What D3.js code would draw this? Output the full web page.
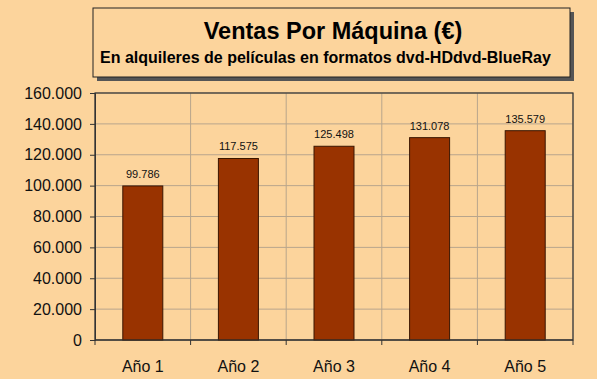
<!DOCTYPE html>
<html><head><meta charset="utf-8">
<script src="https://cdn.jsdelivr.net/npm/d3@7"></script>
<style>html,body{margin:0;padding:0;background:#FCD49C;}svg{display:block;}</style>
</head><body>
<svg id="c" width="597" height="379"></svg>
<script>
const categories = ["Año 1", "Año 2", "Año 3", "Año 4", "Año 5"];
const values = [99786, 117575, 125498, 131078, 135579];
const valueLabels = ["99.786", "117.575", "125.498", "131.078", "135.579"];
const yTicks = [0, 20000, 40000, 60000, 80000, 100000, 120000, 140000, 160000];
const yTickLabels = ["0", "20.000", "40.000", "60.000", "80.000", "100.000", "120.000", "140.000", "160.000"];
const title = "Ventas Por Máquina (€)";
const subtitle = "En alquileres de películas en formatos dvd-HDdvd-BlueRay";

const svg = d3.select("#c");
const font = "Liberation Sans, Arial, Helvetica, sans-serif";
svg.append("rect").attr("width",597).attr("height",379).attr("fill","#FCD49C");

// Title box with shadow
svg.append("rect").attr("x",97).attr("y",12).attr("width",477).attr("height",69).attr("fill","#555");
svg.append("rect").attr("x",93).attr("y",8).attr("width",477).attr("height",69).attr("fill","#FCD49C").attr("stroke","#222").attr("stroke-width",1);
svg.append("text").attr("x",333).attr("y",39).attr("text-anchor","middle").attr("font-family",font).attr("font-weight","bold").attr("font-size",23.5).attr("fill","#000").text(title);
svg.append("text").attr("x",100).attr("y",63).attr("font-family",font).attr("font-weight","bold").attr("font-size",16).attr("fill","#000").text(subtitle);

const L=95, R=573, T=93, B=340;
const x = d3.scaleBand().domain(categories).range([L,R]).paddingInner(0).paddingOuter(0);
const y = d3.scaleLinear().domain([0,160000]).range([B,T]);

const g = svg.append("g");
g.selectAll("line.hg").data(yTicks).enter().append("line")
  .attr("x1",L).attr("x2",R).attr("y1",d=>y(d)).attr("y2",d=>y(d))
  .attr("stroke","#B8A58C").attr("stroke-width",1);
const bounds = categories.map(c=>x(c)).concat([R]);
g.selectAll("line.vg").data(bounds).enter().append("line")
  .attr("x1",d=>d).attr("x2",d=>d).attr("y1",T).attr("y2",B)
  .attr("stroke","#B8A58C").attr("stroke-width",1);

g.append("rect").attr("x",L).attr("y",T).attr("width",R-L).attr("height",B-T).attr("fill","none").attr("stroke","#333").attr("stroke-width",1.2);

const bw = 40;
g.selectAll("rect.bar").data(values).enter().append("rect")
  .attr("x",(d,i)=>x(categories[i])+x.bandwidth()/2-bw/2)
  .attr("y",d=>y(d)).attr("width",bw).attr("height",d=>B-y(d))
  .attr("fill","#993300").attr("stroke","#3a1600").attr("stroke-width",1);

g.selectAll("text.vl").data(values).enter().append("text")
  .attr("x",(d,i)=>x(categories[i])+x.bandwidth()/2).attr("y",d=>y(d)-8)
  .attr("text-anchor","middle").attr("font-family",font).attr("font-size",11).attr("fill","#111")
  .text((d,i)=>valueLabels[i]);

const yAxis = d3.axisLeft(y).tickValues(yTicks).tickFormat((d,i)=>yTickLabels[i]).tickSize(5).tickPadding(8);
const ya = svg.append("g").attr("transform",`translate(${L},0)`).call(yAxis);
ya.select(".domain").attr("stroke","#333");
ya.selectAll(".tick line").attr("stroke","#333");
ya.selectAll("text").attr("font-family",font).attr("font-size",16).attr("fill","#111");

const xa = svg.append("g").attr("transform",`translate(0,${B})`);
xa.append("line").attr("x1",L).attr("x2",R).attr("stroke","#333").attr("stroke-width",1.2);
xa.selectAll("line.t").data(bounds).enter().append("line").attr("x1",d=>d).attr("x2",d=>d).attr("y1",0).attr("y2",5).attr("stroke","#333");
xa.selectAll("text").data(categories).enter().append("text")
  .attr("x",d=>x(d)+x.bandwidth()/2).attr("y",32).attr("text-anchor","middle")
  .attr("font-family",font).attr("font-size",16).attr("fill","#111").text(d=>d);
</script>
</body></html>
